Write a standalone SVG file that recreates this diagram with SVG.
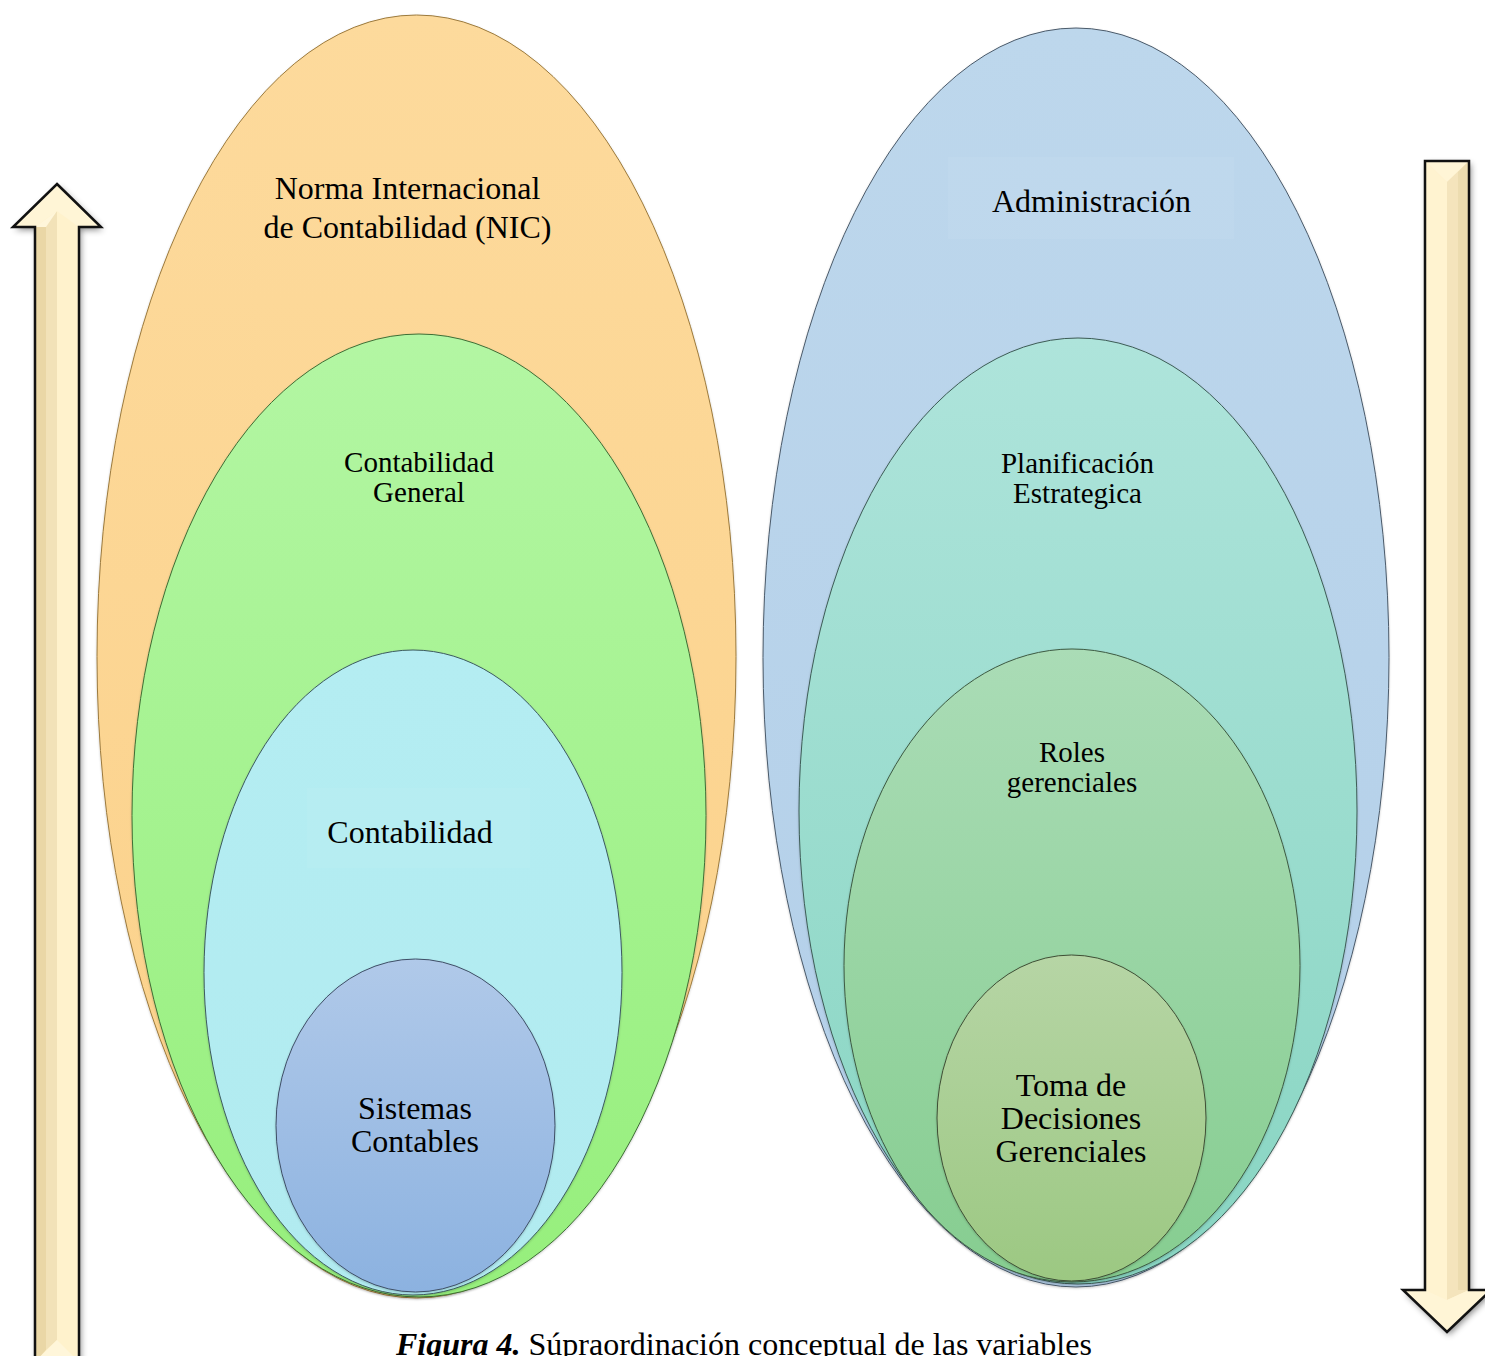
<svg xmlns="http://www.w3.org/2000/svg" width="1485" height="1356" viewBox="0 0 1485 1356">
  <defs>
    <linearGradient id="gOrange" x1="0" y1="0" x2="0" y2="1">
      <stop offset="0" stop-color="#FDDA9C"/>
      <stop offset="1" stop-color="#FBD18A"/>
    </linearGradient>
    <linearGradient id="gGreen" x1="0" y1="0" x2="0" y2="1">
      <stop offset="0" stop-color="#B3F6A3"/>
      <stop offset="1" stop-color="#96EF7C"/>
    </linearGradient>
    <linearGradient id="gCyan" x1="0" y1="0" x2="0" y2="1">
      <stop offset="0" stop-color="#B4EDF2"/>
      <stop offset="1" stop-color="#B1EBF0"/>
    </linearGradient>
    <linearGradient id="gSteel" x1="0" y1="0" x2="0" y2="1">
      <stop offset="0" stop-color="#B0C9E9"/>
      <stop offset="1" stop-color="#8CB2E0"/>
    </linearGradient>
    <linearGradient id="gSky" x1="0" y1="0" x2="0" y2="1">
      <stop offset="0" stop-color="#BDD7EC"/>
      <stop offset="1" stop-color="#B3CFE9"/>
    </linearGradient>
    <linearGradient id="gTeal" x1="0" y1="0" x2="0" y2="1">
      <stop offset="0" stop-color="#AEE4DB"/>
      <stop offset="1" stop-color="#88D5C2"/>
    </linearGradient>
    <linearGradient id="gMint" x1="0" y1="0" x2="0" y2="1">
      <stop offset="0" stop-color="#AADCB6"/>
      <stop offset="1" stop-color="#86CD90"/>
    </linearGradient>
    <linearGradient id="gOlive" x1="0" y1="0" x2="0" y2="1">
      <stop offset="0" stop-color="#B6D5A5"/>
      <stop offset="1" stop-color="#9CC882"/>
    </linearGradient>
    <filter id="shadow" x="-30%" y="-5%" width="160%" height="110%">
      <feDropShadow dx="2" dy="3" stdDeviation="3" flood-color="#000" flood-opacity="0.45"/>
    </filter>
    <filter id="soft" x="-5%" y="-5%" width="110%" height="110%">
      <feDropShadow dx="0" dy="1" stdDeviation="1" flood-color="#000" flood-opacity="0.2"/>
    </filter>
  </defs>
  <style>
    .lbl { font-family: "Liberation Serif", "Times New Roman", serif; fill: #000; text-anchor: middle; }
    .f32 { font-size: 32px; }
    .f29 { font-size: 29px; }
    .edge { stroke-width: 1; filter: url(#soft); }
    .box { fill: #fff; fill-opacity: 0.05; }
    .arrow-outline { fill: none; stroke: #111; stroke-width: 2.5; stroke-linejoin: miter; }
    .cap { font-family: "Liberation Serif", "Times New Roman", serif; font-size: 32px; fill: #000; }
  </style>

  <rect width="1485" height="1356" fill="#fff"/>

  <!-- Left nest: accounting concepts -->
  <g id="nic">
    <ellipse cx="416.5" cy="656.5" rx="319.5" ry="641.5" fill="url(#gOrange)" stroke="#9C7A3C" class="edge"/>
    <text class="lbl f32" x="407.5" y="198.5">Norma Internacional</text>
    <text class="lbl f32" x="407.5" y="237.5">de Contabilidad (NIC)</text>
  </g>
  <g id="contabilidad-general">
    <ellipse cx="419" cy="815.5" rx="287" ry="481.5" fill="url(#gGreen)" stroke="#3E6E35" class="edge"/>
    <text class="lbl f29" x="419" y="471.7">Contabilidad</text>
    <text class="lbl f29" x="419" y="501.7">General</text>
  </g>
  <g id="contabilidad">
    <ellipse cx="413" cy="972.5" rx="209" ry="322.5" fill="url(#gCyan)" stroke="#3C5A60" class="edge"/>
    <rect class="box" x="307" y="788" width="223" height="80"/>
    <text class="lbl f32" x="410" y="842.7">Contabilidad</text>
  </g>
  <g id="sistemas-contables">
    <ellipse cx="415.5" cy="1125.5" rx="139.5" ry="166.5" fill="url(#gSteel)" stroke="#3E4E66" class="edge"/>
    <text class="lbl f32" x="415" y="1119">Sistemas</text>
    <text class="lbl f32" x="415" y="1152">Contables</text>
  </g>

  <!-- Right nest: management concepts -->
  <g id="administracion">
    <ellipse cx="1076" cy="657.5" rx="313" ry="629.5" fill="url(#gSky)" stroke="#4A5A6A" class="edge"/>
    <rect class="box" x="948" y="157" width="286" height="82"/>
    <text class="lbl f32" x="1091.5" y="211.7">Administración</text>
  </g>
  <g id="planificacion">
    <ellipse cx="1078" cy="811" rx="279" ry="473" fill="url(#gTeal)" stroke="#3D5C56" class="edge"/>
    <text class="lbl f29" x="1077.5" y="473.3">Planificación</text>
    <text class="lbl f29" x="1077.5" y="503.3">Estrategica</text>
  </g>
  <g id="roles">
    <ellipse cx="1072" cy="965.5" rx="228" ry="316.5" fill="url(#gMint)" stroke="#3D5A42" class="edge"/>
    <text class="lbl f29" x="1072" y="762">Roles</text>
    <text class="lbl f29" x="1072" y="792">gerenciales</text>
  </g>
  <g id="toma-decisiones">
    <ellipse cx="1071.5" cy="1118" rx="134.5" ry="163" fill="url(#gOlive)" stroke="#3F4F35" class="edge"/>
    <text class="lbl f32" x="1071" y="1096">Toma de</text>
    <text class="lbl f32" x="1071" y="1129">Decisiones</text>
    <text class="lbl f32" x="1071" y="1162">Gerenciales</text>
  </g>

  <!-- Side arrows -->
  <g id="connectors">
    <g id="arrow-up">
      <g filter="url(#shadow)">
        <polygon points="57,184 101,227 79,227 79,1362 35,1362 35,227 13,227" fill="#FFF2CC"/>
      </g>
      <!-- bevel faces -->
      <polygon points="35,227 79,227 57,211" fill="#FFF6DA"/>
      <polygon points="35,227 46,227 46,1350 35,1362" fill="#EAD7A6"/>
      <polygon points="46,227 57,211 57,1340 46,1350" fill="#F2E2B8"/>
      <polygon points="57,211 79,227 79,1362 57,1340" fill="#FFF2CC"/>
      <polygon points="35,1362 57,1340 79,1362" fill="#FFF6DA"/>
      <polygon points="57,184 101,227 79,227 57,211 35,227 13,227" fill="#FFF5D6"/>
      <polygon class="arrow-outline" points="57,184 101,227 79,227 79,1362 35,1362 35,227 13,227"/>
    </g>
    <g id="arrow-down">
      <g filter="url(#shadow)">
        <polygon points="1425,161 1469,161 1469,1290 1491,1290 1447,1332 1403,1290 1425,1290" fill="#FFF2CC"/>
      </g>
      <polygon points="1425,161 1469,161 1447,182" fill="#FFF5D6"/>
      <polygon points="1425,161 1447,182 1447,1300 1425,1290" fill="#FFF3D0"/>
      <polygon points="1447,182 1469,161 1469,1290 1447,1300" fill="#F4E4BC"/>
      <polygon points="1458,172 1469,161 1469,1290 1458,1290" fill="#ECDCB0"/>
      <polygon points="1403,1290 1425,1290 1447,1300 1469,1290 1491,1290 1447,1332" fill="#FFF5D6"/>
      <polygon class="arrow-outline" points="1425,161 1469,161 1469,1290 1491,1290 1447,1332 1403,1290 1425,1290"/>
    </g>
  </g>

  <!-- Caption -->
  <text class="cap" x="396" y="1355"><tspan font-weight="bold" font-style="italic">Figura 4</tspan><tspan font-weight="bold" font-style="italic">.</tspan> Súpraordinación conceptual de las variables</text>
</svg>
